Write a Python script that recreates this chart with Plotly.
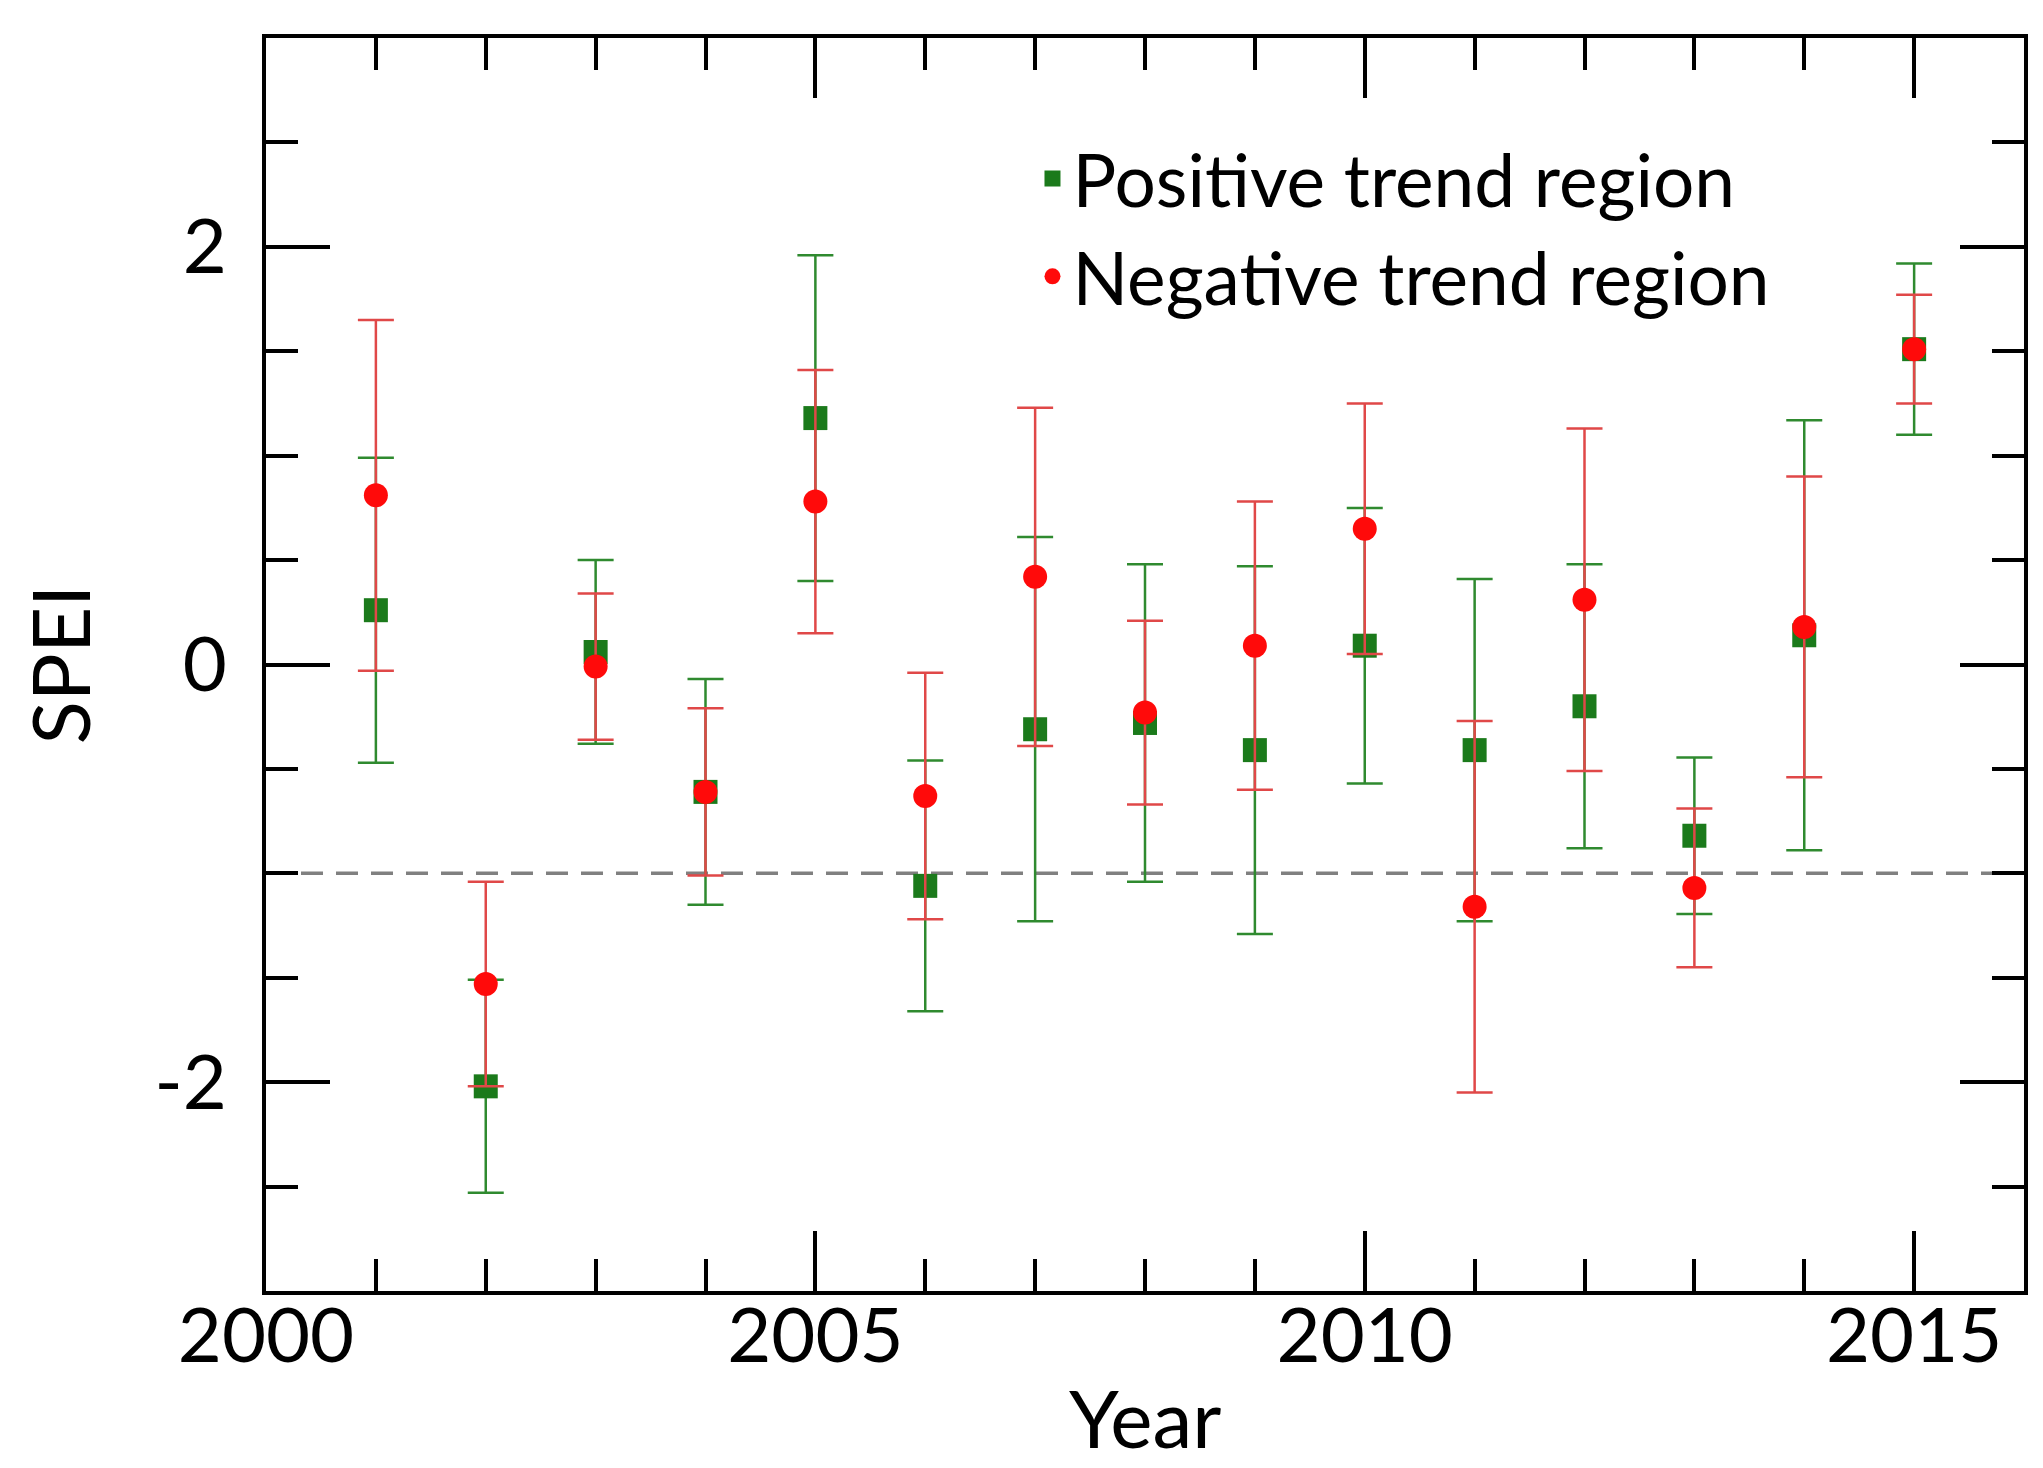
import plotly.graph_objects as go

years = list(range(2001, 2016))

pos_mean = [0.26, -2.02, 0.06, -0.61, 1.18, -1.06, -0.31, -0.28, -0.41, 0.09, -0.41, -0.20, -0.82, 0.14, 1.51]
pos_err = [0.73, 0.51, 0.44, 0.54, 0.78, 0.60, 0.92, 0.76, 0.88, 0.66, 0.82, 0.68, 0.375, 1.03, 0.41]

neg_mean = [0.81, -1.53, -0.01, -0.61, 0.78, -0.63, 0.42, -0.23, 0.09, 0.65, -1.16, 0.31, -1.07, 0.18, 1.51]
neg_err = [0.84, 0.49, 0.35, 0.40, 0.63, 0.59, 0.81, 0.44, 0.69, 0.60, 0.89, 0.82, 0.38, 0.72, 0.26]

threshold = -1.0

x_tickvals = [2000, 2005, 2010, 2015]
x_ticktext = ["2000", "2005", "2010", "2015"]
y_tickvals = [-2, 0, 2]
y_ticktext = ["-2", "0", "2"]

FONT = "Lato"

fig = go.Figure()

fig.add_trace(go.Scatter(
    x=years, y=pos_mean, mode="markers", name="Positive trend region",
    marker=dict(symbol="square", size=24, color="#1b7a1b"),
    error_y=dict(type="data", array=pos_err, visible=True,
                 color="#2f8a2f", thickness=2.5, width=18),
))
fig.add_trace(go.Scatter(
    x=years, y=neg_mean, mode="markers", name="Negative trend region",
    marker=dict(symbol="circle", size=24, color="#ff0a0a"),
    error_y=dict(type="data", array=neg_err, visible=True,
                 color="#e04848", thickness=2.5, width=18),
))

fig.add_shape(type="line", xref="paper", x0=0, x1=1, yref="y", y0=threshold, y1=threshold,
              line=dict(color="#808080", width=3.5, dash="22px,13px"), layer="below")

axis_common = dict(showline=True, linecolor="black", linewidth=4, mirror="ticks",
                   ticks="inside", tickcolor="black", tickwidth=3.5,
                   showgrid=False, zeroline=False,
                   tickfont=dict(family=FONT, size=76, color="black"))

fig.update_xaxes(range=[2000, 2016], tickmode="array", tickvals=x_tickvals, ticktext=x_ticktext,
                 ticklen=60, ticklabelstandoff=-24,
                 minor=dict(dtick=1, tick0=2000, ticks="inside", ticklen=32, tickwidth=3.5, tickcolor="black"),
                 **axis_common)
fig.update_yaxes(range=[-3, 3], tickmode="array", tickvals=y_tickvals, ticktext=y_ticktext,
                 ticklen=64, ticklabelstandoff=20,
                 minor=dict(dtick=0.5, tick0=0, ticks="inside", ticklen=32, tickwidth=3.5, tickcolor="black"),
                 title=dict(text="SPEI", font=dict(family=FONT, size=80, color="black"), standoff=38),
                 **axis_common)

fig.add_annotation(text="Year", xref="paper", yref="paper", x=0.5, y=-0.1005,
                   xanchor="center", yanchor="middle", showarrow=False,
                   font=dict(family=FONT, size=80, color="black"))

fig.update_layout(
    width=2043, height=1468,
    margin=dict(l=258, r=27, t=30, b=185),
    plot_bgcolor="white", paper_bgcolor="white",
    showlegend=True,
    legend=dict(x=0.436, y=0.931, xanchor="left", yanchor="top",
                bgcolor="rgba(0,0,0,0)", font=dict(family=FONT, size=73, color="black"),
                itemwidth=30, tracegroupgap=0),
)

fig.write_html("out.html")
